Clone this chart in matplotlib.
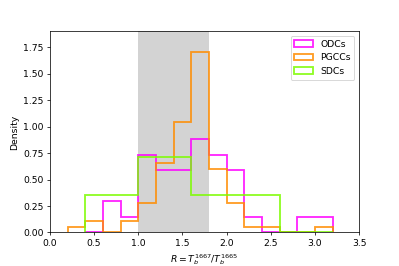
import numpy as np
import matplotlib
matplotlib.use("Agg")
import matplotlib.pyplot as plt

# ODCs: counts in 0.2-wide bins from 0.4 to 3.2
odc_edges = [0.4, 0.6, 0.8, 1.0, 1.2, 1.4, 1.6, 1.8, 2.0, 2.2, 2.4, 2.6, 2.8, 3.0, 3.2]
odc_counts = [0, 2, 1, 5, 4, 4, 6, 5, 4, 1, 0, 0, 1, 1]

# PGCCs: counts in 0.2-wide bins from 0.2 to 3.2
pgcc_edges = [0.2, 0.4, 0.6, 0.8, 1.0, 1.2, 1.4, 1.6, 1.8, 2.0, 2.2, 2.4, 2.6, 2.8, 3.0, 3.2]
pgcc_counts = [1, 2, 0, 2, 5, 12, 19, 31, 11, 5, 1, 1, 0, 0, 1]

# SDCs
sdc_edges = [0.4, 1.0, 1.6, 2.6, 3.2]
sdc_counts = [3, 6, 5, 0]

labels = ["ODCs", "PGCCs", "SDCs"]
colors = ["#ff00ff", "#ff8c00", "#7cfc00"]

fig = plt.figure(figsize=(6, 4), dpi=66.5)
ax = fig.add_subplot(111)
fig.subplots_adjust(left=0.125, right=0.9, bottom=0.126, top=0.882)

ax.axvspan(1.0, 1.8, color="lightgray", zorder=0, lw=0)

for edges, counts, lab, col in zip([odc_edges, pgcc_edges, sdc_edges],
                                   [odc_counts, pgcc_counts, sdc_counts],
                                   labels, colors):
    e = np.array(edges)
    ax.hist(e[:-1], bins=e, weights=counts, density=True, histtype="step",
            color=col, lw=2, alpha=0.85, label=lab)

ax.set_xlim(0, 3.5)
ax.set_ylim(0, 1.9)
ax.set_xticks(np.arange(0, 3.51, 0.5))
ax.set_yticks(np.arange(0, 1.76, 0.25))
ax.set_xlabel(r"$R=T_b^{1667}/T_b^{1665}$")
ax.set_ylabel("Density")
ax.legend(loc="upper right")
fig.savefig("out.png", dpi=66.5)
